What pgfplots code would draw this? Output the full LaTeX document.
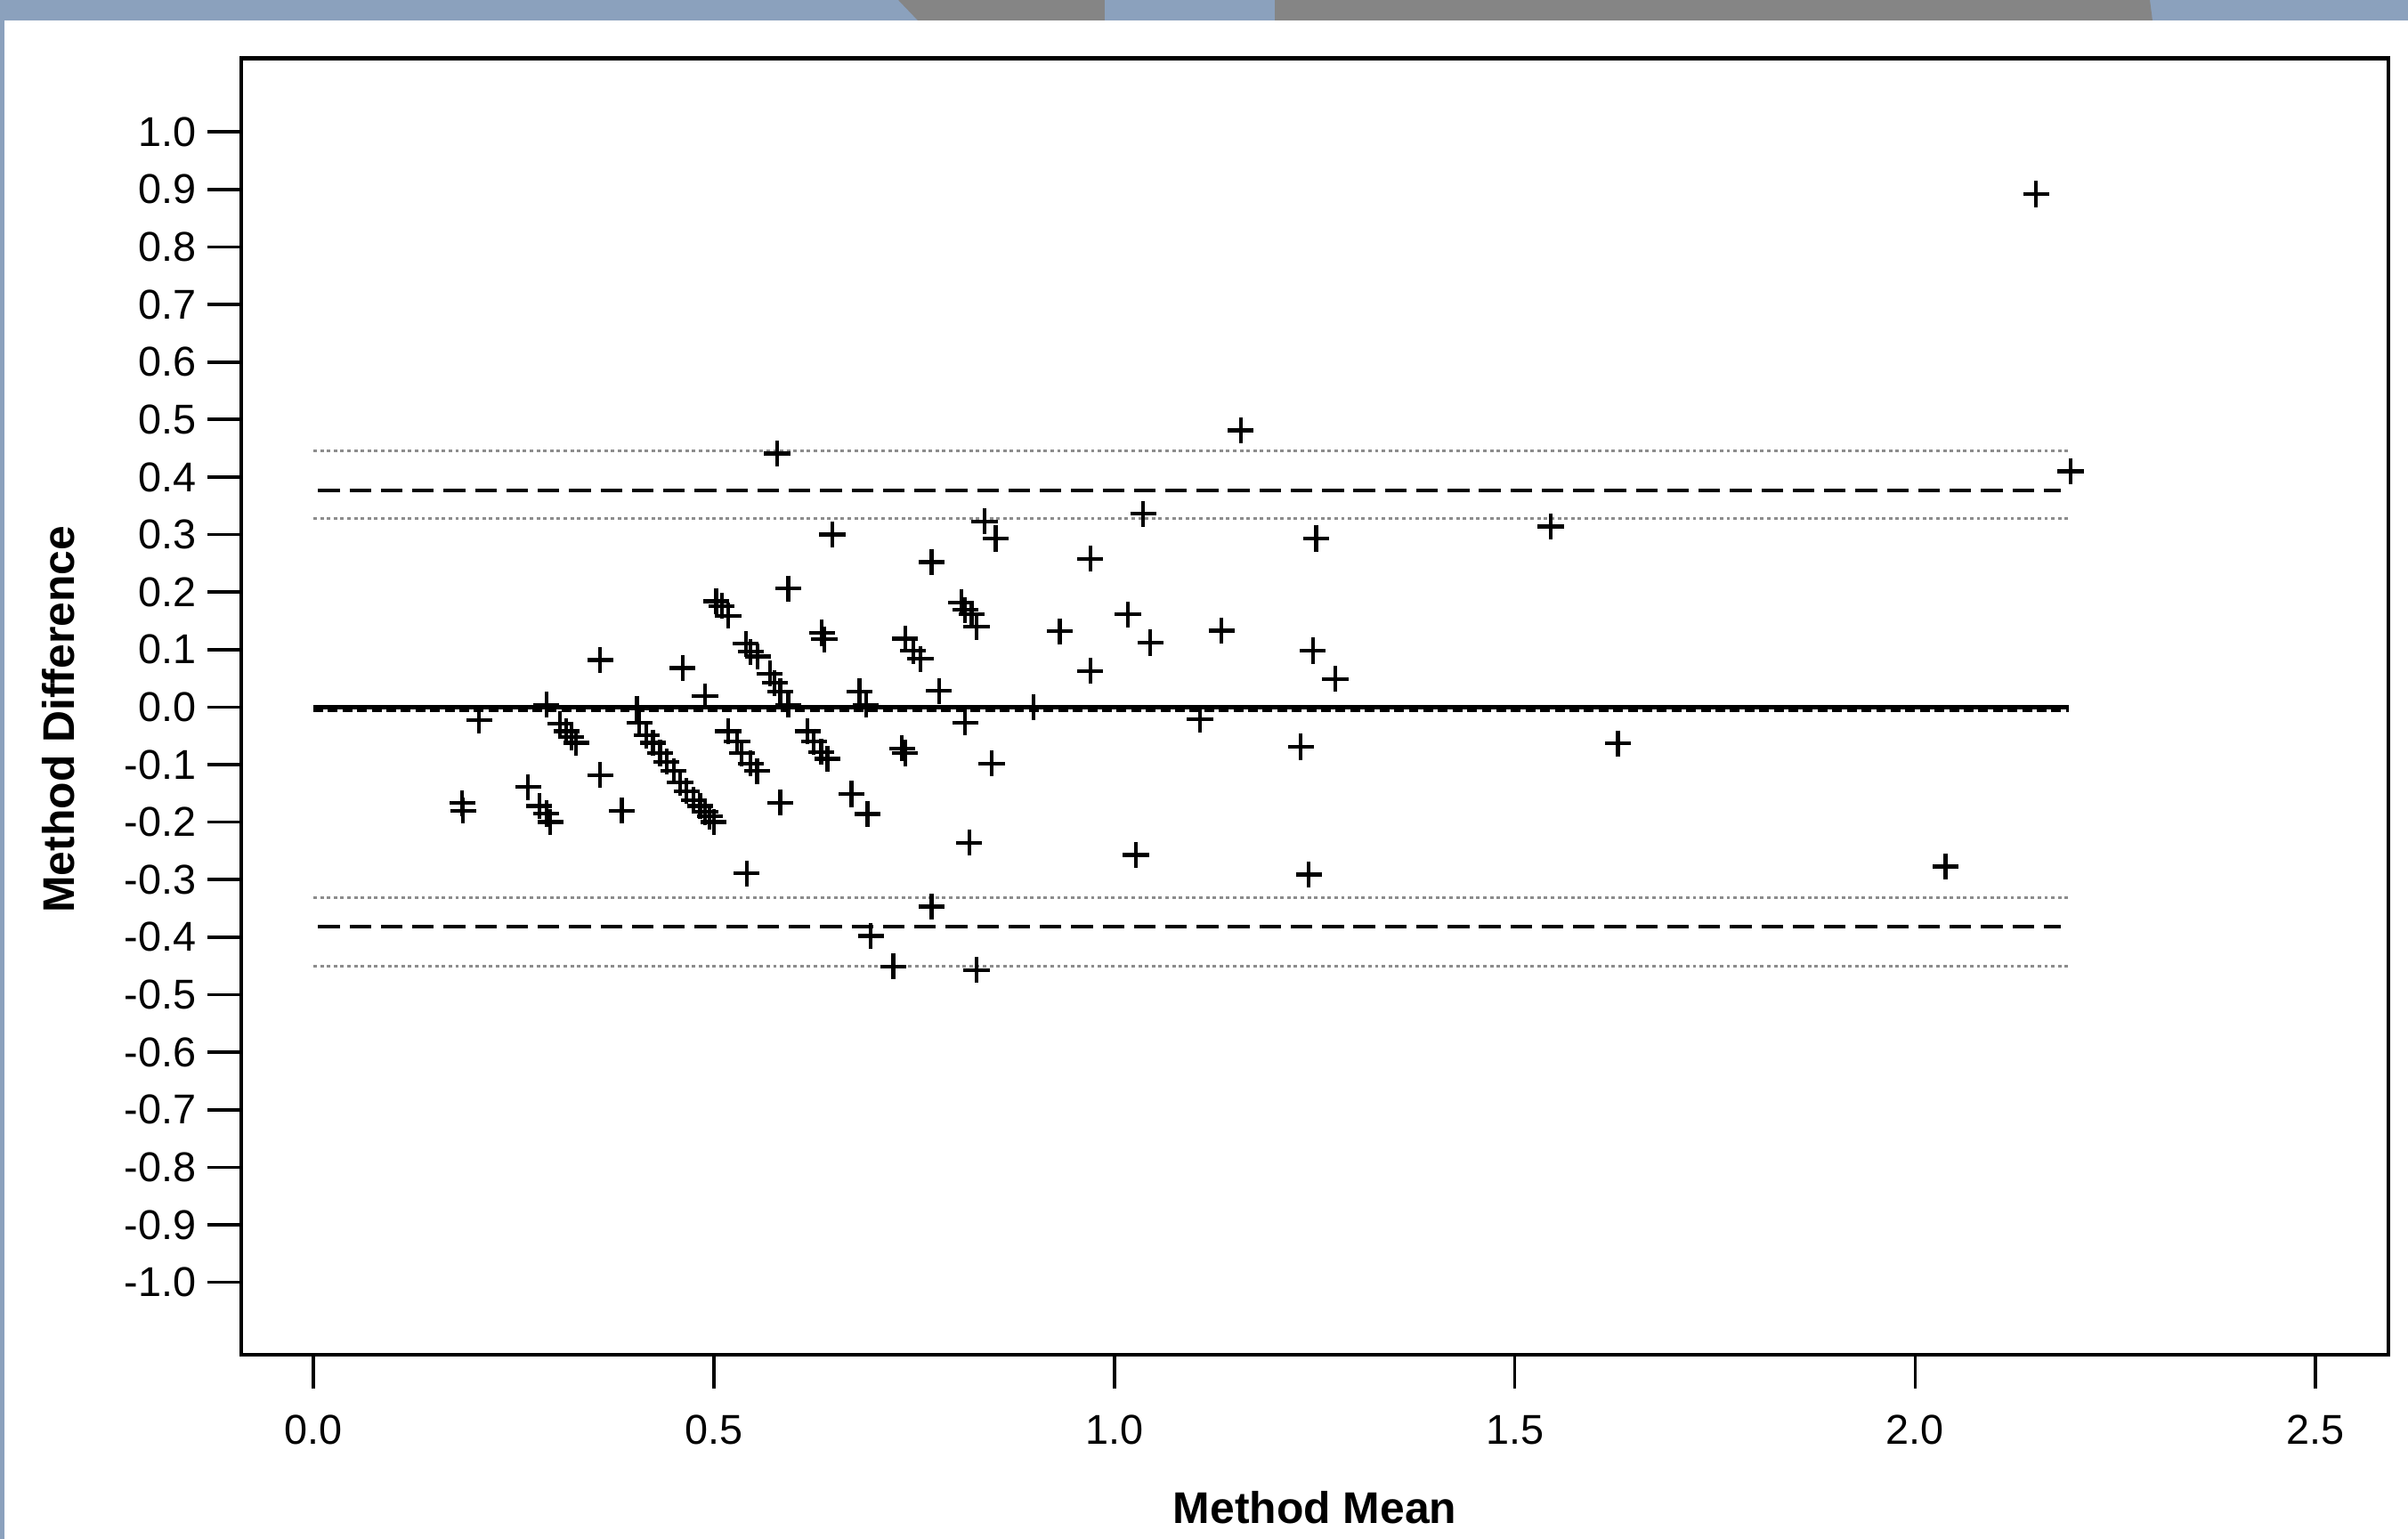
\documentclass[border=0pt]{standalone}
\usepackage{fontspec}
\setmainfont{Liberation Sans}
\usepackage{pgfplots}
\pgfplotsset{compat=1.18}
\definecolor{limgray}{HTML}{8C8C8C}
\definecolor{bannerblue}{HTML}{8BA1BD}
\definecolor{bannergray}{HTML}{858585}

\pgfplotstableread{
x y
2.151 0.892
2.194 0.410
1.158 0.481
0.579 0.441
1.545 0.314
1.036 0.336
0.838 0.323
0.852 0.293
0.648 0.300
1.252 0.293
0.772 0.252
0.970 0.258
0.593 0.206
0.809 0.182
0.814 0.169
0.822 0.162
0.828 0.140
0.932 0.132
1.017 0.161
1.045 0.112
1.134 0.133
1.248 0.098
1.276 0.049
0.970 0.063
0.739 0.119
0.749 0.098
0.758 0.084
0.781 0.028
0.814 -0.027
0.899 0.000
1.107 -0.021
0.735 -0.072
0.739 -0.080
0.847 -0.098
1.233 -0.069
1.629 -0.063
0.819 -0.236
1.027 -0.257
1.243 -0.291
2.038 -0.277
0.772 -0.347
0.696 -0.398
0.724 -0.451
0.828 -0.457
0.503 0.184
0.510 0.176
0.518 0.159
0.635 0.129
0.638 0.118
0.540 0.110
0.546 0.096
0.555 0.088
0.570 0.058
0.576 0.042
0.583 0.027
0.593 0.004
0.682 0.027
0.690 0.004
0.489 0.019
0.461 0.068
0.358 0.082
0.291 0.004
0.207 -0.023
0.404 -0.003
0.308 -0.029
0.316 -0.042
0.322 -0.052
0.328 -0.062
0.407 -0.027
0.416 -0.049
0.424 -0.062
0.433 -0.080
0.441 -0.095
0.450 -0.111
0.458 -0.131
0.466 -0.146
0.475 -0.162
0.483 -0.172
0.489 -0.182
0.495 -0.190
0.500 -0.200
0.518 -0.042
0.529 -0.060
0.535 -0.080
0.546 -0.098
0.554 -0.111
0.617 -0.042
0.625 -0.060
0.634 -0.078
0.642 -0.090
0.583 -0.166
0.672 -0.151
0.692 -0.186
0.541 -0.289
0.358 -0.118
0.268 -0.139
0.282 -0.172
0.291 -0.185
0.296 -0.200
0.186 -0.167
0.187 -0.180
0.385 -0.180
}\diffdata

\begin{document}
\begin{tikzpicture}
\begin{axis}[
    width=13.951cm, height=8.424cm, scale only axis,
    xmin=-0.090, xmax=2.591, ymin=-1.126, ymax=1.128,
    xtick={0,0.5,1,1.5,2,2.5},
    ytick={-1,-0.9,-0.8,-0.7,-0.6,-0.5,-0.4,-0.3,-0.2,-0.1,0,0.1,0.2,0.3,0.4,0.5,0.6,0.7,0.8,0.9,1},
    tick align=outside, xtick pos=bottom, ytick pos=left,
    major tick length=0.22cm,
    tick style={black, line width=0.6pt},
    axis line style={line width=0.7pt},
    ticklabel style={font=\fontsize{7.7}{9}\selectfont},
    xticklabel style={yshift=-0.05cm},
    yticklabel style={xshift=0.05cm},
    /pgf/number format/.cd, fixed, fixed zerofill, precision=1, assume math mode=true, /pgfplots/.cd,
    xlabel={Method Mean}, ylabel={Method Difference},
    every axis x label/.style={at={(rel axis cs:0.5,0)}, anchor=base, yshift=-1.095cm,
        font=\bfseries\fontsize{8.2}{10}\selectfont},
    every axis y label/.style={at={(rel axis cs:-0.0850,0.49)}, anchor=center, rotate=90,
        font=\bfseries\fontsize{8.2}{10}\selectfont},
]
% agreement lines
\addplot[limgray, line width=0.5pt, dash pattern=on 0.65pt off 0.6pt] coordinates {(0,0.446) (2.192,0.446)};
\addplot[limgray, line width=0.5pt, dash pattern=on 0.65pt off 0.6pt] coordinates {(0,0.328) (2.192,0.328)};
\addplot[limgray, line width=0.5pt, dash pattern=on 0.65pt off 0.6pt] coordinates {(0,-0.332) (2.192,-0.332)};
\addplot[limgray, line width=0.5pt, dash pattern=on 0.65pt off 0.6pt] coordinates {(0,-0.451) (2.192,-0.451)};
\addplot[black, line width=0.65pt, dash pattern=on 4pt off 1.8pt] coordinates {(0.006,0.3765) (2.182,0.3765)};
\addplot[black, line width=0.65pt, dash pattern=on 4pt off 1.8pt] coordinates {(0.006,-0.382) (2.182,-0.382)};
\addplot[black, line width=0.55pt, dash pattern=on 1.8pt off 0.9pt] coordinates {(0,-0.006) (2.192,-0.006)};
\addplot[black, line width=0.7pt] coordinates {(0,0) (2.192,0)};
% points
\addplot[only marks, mark=+, mark size=2.4pt, black, mark options={line width=0.7pt}] table {\diffdata};
\coordinate (TL) at (rel axis cs:-0.11236,1.04499);
\coordinate (BL) at (rel axis cs:-0.11236,-0.14209);
\coordinate (BR) at (rel axis cs:1.00910,-0.14209);
\end{axis}
\pgfresetboundingbox
\path[use as bounding box] (TL) rectangle (BR);
\fill[bannerblue] (TL) rectangle ([xshift=15.645cm,yshift=-0.133cm]TL);
\fill[bannergray] ([xshift=5.836cm]TL) -- ([xshift=13.968cm]TL) -- ([xshift=13.985cm,yshift=-0.133cm]TL) -- ([xshift=5.963cm,yshift=-0.133cm]TL) -- cycle;
\fill[bannerblue] ([xshift=7.18cm]TL) rectangle ([xshift=8.28cm,yshift=-0.133cm]TL);
\draw[bannerblue, line width=0.8pt] ([xshift=0.4pt]TL) -- ([xshift=0.4pt]BL);
\end{tikzpicture}
\end{document}
